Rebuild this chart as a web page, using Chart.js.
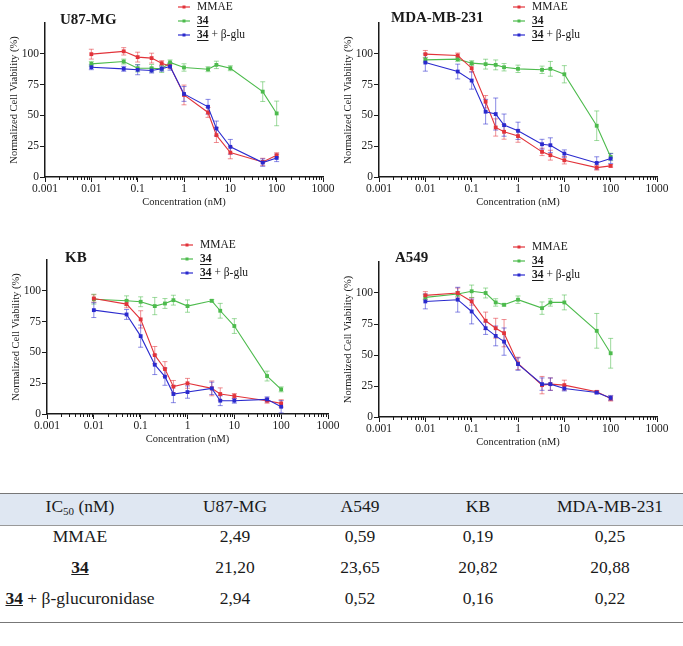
<!DOCTYPE html>
<html>
<head>
<meta charset="utf-8">
<script src="https://cdn.jsdelivr.net/npm/chart.js@4.4.1/dist/chart.umd.min.js"></script>
<style>
  body { margin: 0; width: 683px; height: 646px; position: relative; background: #fff; overflow: hidden;
         font-family: 'Liberation Serif', 'Times New Roman', serif; color: #1a1a1a; }
  canvas { position: absolute; }
  table { position: absolute; left: 0; top: 493px; width: 683px; border-collapse: collapse; table-layout: fixed;
          font-size: 17.5px; border-top: 1.5px solid #777; border-bottom: 1.5px solid #777; }
  th { background: #dfe7f2; font-weight: normal; height: 29px; padding: 2px 0 0; line-height: 20px;
       vertical-align: top; border-bottom: 1px solid #999; }
  td { height: 31px; padding: 0; line-height: 20px; vertical-align: top; text-align: center; }
  tr:last-child td { height: 34px; }
  th:last-child, td:last-child { padding-right: 9px; }
  sub { font-size: 11px; vertical-align: -3px; line-height: 0; }
  .cmp { font-weight: bold; text-decoration: underline; }
</style>
</head>
<body>
<canvas id="c0"></canvas>
<canvas id="c1"></canvas>
<canvas id="c2"></canvas>
<canvas id="c3"></canvas>
<table id="ic50"></table>
<script>
// --- data ---
const concentrations = [0.01, 0.05, 0.1, 0.2, 0.33, 0.5, 1, 3.3, 5, 10, 50, 100];
const seriesNames = ['MMAE', '34', '34 + β-glu'];
const xTickValues = [0.001, 0.01, 0.1, 1, 10, 100, 1000];
const xTickLabels = ['0.001', '0.01', '0.1', '1', '10', '100', '1000'];
const yTickValues = [0, 25, 50, 75, 100];

const u87Mmae = [99.7, 102, 97.3, 96.5, 92.4, 90, 66.6, 52.4, 34, 19.8, 12.2, 17.7];
const u87MmaeErr = [4, 3, 4, 4, 2, 2, 8, 4, 6, 5, 3, 2];
const u87Comp = [91.8, 93.7, 88.3, 88.3, 87.8, 93, 88.9, 87.5, 91, 88.3, 69.3, 51.6];
const u87CompErr = [2, 2, 3, 3, 3, 2, 3, 2, 3, 2, 8, 10];
const u87Glu = [89.1, 87.8, 87, 86.4, 87.8, 89.7, 67.4, 57, 39.4, 24.5, 11.7, 15.5];
const u87GluErr = [2, 2, 4, 2, 2, 3, 6, 6, 6, 6, 3, 3];

const mdaMmae = [99.7, 98.6, 88.3, 61.1, 40.2, 36.7, 33.2, 20.4, 17.7, 13.6, 7.6, 9];
const mdaMmaeErr = [3, 2, 3, 5, 7, 6, 5, 3, 4, 3, 2, 1];
const mdaComp = [95.1, 95.7, 92.4, 91.6, 91, 89.1, 87.8, 87, 87.8, 83.4, 41.6, 16.3];
const mdaCompErr = [2, 2, 2, 4, 4, 3, 3, 3, 6, 7, 12, 3];
const mdaGlu = [92.9, 85.6, 78.3, 53, 51.1, 42.1, 37.5, 26.6, 25.8, 19, 11.4, 15];
const mdaGluErr = [7, 6, 7, 10, 13, 9, 7, 4, 6, 3, 5, 4];

const kbMmae = [93.8, 89.2, 76.8, 47.8, 36.5, 22.2, 24.9, 20.8, 16.2, 14.6, 10.8, 8.6];
const kbMmaeErr = [3, 3, 7, 7, 6, 5, 4, 6, 5, 2, 2, 3];
const kbComp = [93.2, 91.9, 91.1, 87.6, 89.7, 92.4, 87.6, 91.9, 83.8, 71.4, 30.8, 20];
const kbCompErr = [4, 4, 4, 7, 4, 4, 5, 1, 6, 6, 4, 2];
const kbGlu = [84.3, 80.8, 63.2, 40, 30.3, 16.2, 17.8, 20.8, 10.8, 10.8, 11.9, 5.9];
const kbGluErr = [6, 4, 9, 8, 7, 7, 5, 5, 4, 2, 2, 5];

const a549Mmae = [98.1, 100, 93.2, 77.6, 71.6, 67.6, 43.2, 25.7, 26.5, 25.7, 20.3, 14.9];
const a549MmaeErr = [3, 4, 3, 7, 8, 11, 5, 7, 5, 4, 1, 2];
const a549Comp = [96.5, 99.2, 101.4, 100, 92.4, 90.5, 94.6, 87.8, 92.4, 92.4, 69.5, 51.4];
const a549CompErr = [2, 2, 5, 4, 3, 1, 3, 5, 3, 6, 14, 12];
const a549Glu = [93.2, 94.6, 85.1, 71.6, 65.4, 60.8, 42.7, 26.5, 26.5, 23, 19.7, 15.4];
const a549GluErr = [6, 10, 10, 5, 8, 11, 5, 5, 5, 2, 1, 2];

// table data
const tableColumns = ['U87-MG', 'A549', 'KB', 'MDA-MB-231'];
const tableRows = ['MMAE', '34', '34 + β-glucuronidase'];
const ic50Mmae = ['2,49', '0,59', '0,19', '0,25'];
const ic50Comp = ['21,20', '23,65', '20,82', '20,88'];
const ic50Glu = ['2,94', '0,52', '0,16', '0,22'];

const panelSeries = {
  'U87-MG': [[u87Mmae, u87MmaeErr], [u87Comp, u87CompErr], [u87Glu, u87GluErr]],
  'MDA-MB-231': [[mdaMmae, mdaMmaeErr], [mdaComp, mdaCompErr], [mdaGlu, mdaGluErr]],
  'KB': [[kbMmae, kbMmaeErr], [kbComp, kbCompErr], [kbGlu, kbGluErr]],
  'A549': [[a549Mmae, a549MmaeErr], [a549Comp, a549CompErr], [a549Glu, a549GluErr]],
};

// --- styling / layout ---
const FONT = "'Liberation Serif', 'Times New Roman', serif";
const INK = '#1a1a1a';
const lineColors = ['#e2333a', '#4dbb4d', '#2a2ace'];
const errColors = ['rgba(226,51,58,0.55)', 'rgba(77,187,77,0.55)', 'rgba(42,42,206,0.55)'];
const drawOrder = [1, 2, 0];
const Y_AXIS_W = 38;
const X_AXIS_H = 40;

// area = [left, right, top, bottom] of the plot box, page coordinates
const panelLayout = [
  { line: 'U87-MG', x: 0, y: 0, w: 345, h: 225, area: [45, 323, 23, 177], titleAt: [60, 20], legendAt: [178, 7] },
  { line: 'MDA-MB-231', x: 340, y: 0, w: 343, h: 225, area: [379, 657, 23, 177], titleAt: [391, 18], legendAt: [513, 7] },
  { line: 'KB', x: 0, y: 230, w: 345, h: 230, area: [47, 328, 260, 414], titleAt: [65, 258], legendAt: [181, 245] },
  { line: 'A549', x: 340, y: 230, w: 343, h: 230, area: [379, 657, 262, 417], titleAt: [395, 258], legendAt: [513, 247] },
];

// draws error bars, minor log ticks, panel title and the legend
const panelDecor = {
  id: 'panelDecor',
  beforeDatasetsDraw(chart) {
    const { ctx, scales: { x, y } } = chart;
    chart.data.datasets.forEach((ds) => {
      ctx.save();
      ctx.strokeStyle = ds.errColor;
      ctx.lineWidth = 1;
      ds.data.forEach((pt, j) => {
        const e = ds.errors[j];
        const px = x.getPixelForValue(pt.x);
        const y1 = y.getPixelForValue(pt.y - e);
        const y2 = y.getPixelForValue(pt.y + e);
        ctx.beginPath();
        ctx.moveTo(px, y1); ctx.lineTo(px, y2);
        ctx.moveTo(px - 2.5, y1); ctx.lineTo(px + 2.5, y1);
        ctx.moveTo(px - 2.5, y2); ctx.lineTo(px + 2.5, y2);
        ctx.stroke();
      });
      ctx.restore();
    });
  },
  afterDraw(chart, args, opts) {
    const { ctx, chartArea, scales: { x } } = chart;
    ctx.save();
    // minor ticks of the log axis
    ctx.strokeStyle = INK;
    ctx.lineWidth = 1;
    ctx.beginPath();
    xTickValues.slice(0, -1).forEach(dec => {
      for (let k = 2; k < 10; k++) {
        const px = Math.round(x.getPixelForValue(dec * k)) + 0.5;
        ctx.moveTo(px, chartArea.bottom);
        ctx.lineTo(px, chartArea.bottom + 3);
      }
    });
    ctx.stroke();

    // title
    ctx.fillStyle = INK;
    ctx.textBaseline = 'middle';
    ctx.font = `bold 15px ${FONT}`;
    ctx.fillText(opts.title, opts.titleAt[0], opts.titleAt[1]);

    // legend
    seriesNames.forEach((name, i) => {
      const lx = opts.legendAt[0];
      const ly = opts.legendAt[1] + i * 14;
      ctx.strokeStyle = lineColors[i];
      ctx.lineWidth = 1.2;
      ctx.beginPath();
      ctx.moveTo(lx, ly); ctx.lineTo(lx + 12, ly);
      ctx.stroke();
      ctx.fillStyle = lineColors[i];
      ctx.fillRect(lx + 4.5, ly - 1.5, 3, 3);

      ctx.fillStyle = INK;
      let tx = lx + 19;
      let rest = name;
      if (name.startsWith('34')) {
        ctx.font = `bold 11.5px ${FONT}`;
        const w = ctx.measureText('34').width;
        ctx.fillText('34', tx, ly);
        ctx.fillRect(tx, ly + 5, w, 1);
        tx += w;
        rest = name.slice(2);
      }
      ctx.font = `11.5px ${FONT}`;
      ctx.fillText(rest, tx, ly);
    });
    ctx.restore();
  }
};

panelLayout.forEach((p, idx) => {
  const canvas = document.getElementById('c' + idx);
  canvas.width = p.w; canvas.height = p.h;
  canvas.style.left = p.x + 'px'; canvas.style.top = p.y + 'px';
  const [aL, aR, aT, aB] = p.area;

  const datasets = panelSeries[p.line].map(([vals, errs], i) => ({
    label: seriesNames[i],
    data: concentrations.map((c, j) => ({ x: c, y: vals[j] })),
    errors: errs,
    errColor: errColors[i],
    borderColor: lineColors[i],
    backgroundColor: lineColors[i],
    borderWidth: 1.1,
    pointStyle: 'rect',
    pointRadius: 2.7,
    pointBorderWidth: 0,
    order: drawOrder[i],
  }));

  new Chart(canvas, {
    type: 'line',
    data: { datasets },
    options: {
      responsive: false,
      animation: false,
      devicePixelRatio: 1,
      layout: {
        padding: {
          left: aL - p.x - Y_AXIS_W,
          right: p.x + p.w - aR,
          top: aT - p.y,
          bottom: p.y + p.h - aB - X_AXIS_H,
        }
      },
      plugins: {
        legend: { display: false },
        tooltip: { enabled: false },
        panelDecor: {
          title: p.line,
          titleAt: [p.titleAt[0] - p.x, p.titleAt[1] - p.y],
          legendAt: [p.legendAt[0] - p.x, p.legendAt[1] - p.y],
        },
      },
      scales: {
        x: {
          type: 'logarithmic',
          min: 0.001,
          max: 1000,
          afterBuildTicks: (s) => { s.ticks = xTickValues.map(v => ({ value: v, major: true })); },
          afterFit: (s) => { s.height = X_AXIS_H; },
          ticks: {
            callback: (v, i) => xTickLabels[i],
            color: INK, font: { family: FONT, size: 11.5 }, padding: 0,
            maxRotation: 0, autoSkip: false,
          },
          grid: { drawOnChartArea: false, drawTicks: true, tickLength: 5, tickColor: INK, tickWidth: 1 },
          border: { display: true, color: INK, width: 1.5 },
          title: { display: true, text: 'Concentration (nM)', color: INK,
                   font: { family: FONT, size: 10.5 }, padding: { top: 0, bottom: 8 } },
        },
        y: {
          min: 0,
          max: 125,
          afterBuildTicks: (s) => { s.ticks = yTickValues.map(v => ({ value: v })); },
          afterFit: (s) => { s.width = Y_AXIS_W; },
          ticks: { callback: (v) => String(v), color: INK, font: { family: FONT, size: 11.5 }, padding: 1 },
          grid: { drawOnChartArea: false, drawTicks: true, tickLength: 5, tickColor: INK, tickWidth: 1 },
          border: { display: true, color: INK, width: 1.5 },
          title: { display: true, text: 'Normalized Cell Viability (%)', color: INK,
                   font: { family: FONT, size: 10.5 }, padding: { top: 1, bottom: 0 } },
        },
      },
    },
    plugins: [panelDecor],
  });
});

// --- IC50 table ---
function labelCell(text) {
  if (text.startsWith('34')) {
    return '<span class="cmp">34</span>' + text.slice(2);
  }
  return text;
}
const tableValues = [ic50Mmae, ic50Comp, ic50Glu];
const colWidths = [160, 150, 100, 136, 137];
let html = '<colgroup>' + colWidths.map(w => `<col style="width:${w}px">`).join('') + '</colgroup>';
html += '<tr><th>IC<sub>50</sub> (nM)</th>' + tableColumns.map(c => `<th>${c}</th>`).join('') + '</tr>';
tableRows.forEach((r, i) => {
  html += `<tr><td>${labelCell(r)}</td>` + tableValues[i].map(v => `<td>${v}</td>`).join('') + '</tr>';
});
document.getElementById('ic50').innerHTML = html;
</script>
</body>
</html>
